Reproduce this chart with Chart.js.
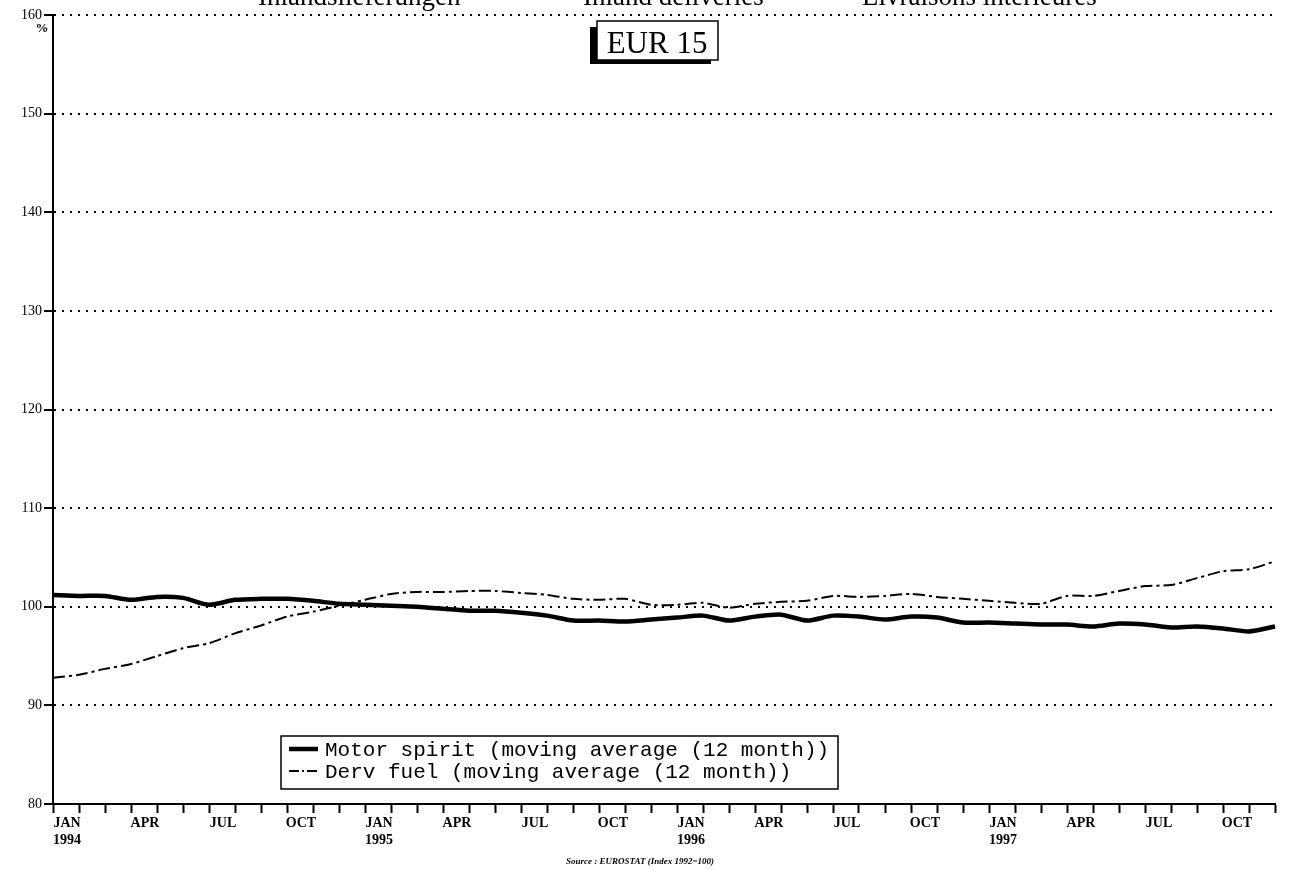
<!DOCTYPE html>
<html>
<head>
<meta charset="utf-8">
<script src="https://cdn.jsdelivr.net/npm/chart.js@4.4.1/dist/chart.umd.min.js"></script>
<style>
  html, body { margin: 0; padding: 0; background: #fff; }
</style>
</head>
<body>
<canvas id="fuelChart" width="1293" height="870"></canvas>
<script>
// ── Data ───────────────────────────────────────────────────
const monthNames = ["JAN", "FEB", "MAR", "APR", "MAY", "JUN", "JUL", "AUG", "SEP", "OCT", "NOV", "DEC"];
const years = ["1994", "1995", "1996", "1997"];

// Motor spirit, moving average (12 month), index 1992=100
const motorSpirit = [
  101.2, 101.1, 101.1, 100.7, 101.0, 100.9, 100.2, 100.7, 100.8, 100.8, 100.6, 100.3,
  100.2, 100.1, 100.0, 99.8, 99.6, 99.6, 99.4, 99.1, 98.6, 98.6, 98.5, 98.7,
  98.9, 99.1, 98.6, 99.0, 99.2, 98.6, 99.1, 99.0, 98.7, 99.0, 98.9, 98.4,
  98.4, 98.3, 98.2, 98.2, 98.0, 98.3, 98.2, 97.9, 98.0, 97.8, 97.5, 98.0
];

// Derv fuel, moving average (12 month)
const dervFuel = [
  92.8, 93.1, 93.7, 94.2, 95.0, 95.8, 96.3, 97.3, 98.1, 99.0, 99.5, 100.1,
  100.7, 101.3, 101.5, 101.5, 101.6, 101.6, 101.4, 101.2, 100.8, 100.7, 100.8, 100.2,
  100.2, 100.4, 99.9, 100.3, 100.5, 100.6, 101.1, 101.0, 101.1, 101.3, 101.0, 100.8,
  100.6, 100.4, 100.3, 101.1, 101.1, 101.6, 102.1, 102.2, 102.9, 103.6, 103.8, 104.6
];

const yTicks = [80, 90, 100, 110, 120, 130, 140, 150, 160];

const labels = [];
years.forEach(function (y) {
  monthNames.forEach(function (m) { labels.push(m + " " + y); });
});

// ── Overlay texts: cut-off title, EUR 15 box, legend, source ──
const overlay = {
  id: "overlay",
  afterDraw: function (chart) {
    const ctx = chart.ctx;
    ctx.save();
    ctx.fillStyle = "#000";

    // title (cut off at top of the scan)
    ctx.font = "27px 'Liberation Serif'";
    ctx.textBaseline = "alphabetic";
    ctx.textAlign = "left";
    ctx.fillText("Inlandslieferungen", 258, 5);
    ctx.fillText("Inland deliveries", 583, 5);
    ctx.fillText("Livraisons intérieures", 862, 5);

    // EUR 15 box with shadow
    ctx.fillRect(590, 27, 121, 37);
    ctx.fillStyle = "#fff";
    ctx.fillRect(597, 21, 121, 39);
    ctx.strokeStyle = "#000";
    ctx.lineWidth = 1.5;
    ctx.strokeRect(597, 21, 121, 39);
    ctx.fillStyle = "#000";
    ctx.font = "31px 'Liberation Serif'";
    ctx.textAlign = "center";
    ctx.fillText("EUR 15", 657, 53);

    // % unit
    ctx.font = "bold 13px 'Liberation Serif'";
    ctx.fillText("%", 42, 32);

    // legend box
    ctx.fillStyle = "#fff";
    ctx.fillRect(281, 736, 557, 53);
    ctx.lineWidth = 1.5;
    ctx.strokeRect(281, 736, 557, 53);
    ctx.font = "21px 'Liberation Mono'";
    ctx.textAlign = "left";
    ctx.textBaseline = "middle";
    chart.data.datasets.forEach(function (ds, i) {
      const y = 749 + i * 22;
      ctx.save();
      ctx.strokeStyle = "#000";
      ctx.lineWidth = ds.borderWidth;
      ctx.setLineDash(ds.legendDash || []);
      ctx.beginPath();
      ctx.moveTo(289, y);
      ctx.lineTo(318, y);
      ctx.stroke();
      ctx.restore();
      ctx.fillStyle = "#000";
      ctx.fillText(ds.label, 325, y + 1);
    });

    // source
    ctx.font = "italic bold 9px 'Liberation Serif'";
    ctx.textAlign = "center";
    ctx.textBaseline = "alphabetic";
    ctx.fillText("Source : EUROSTAT (Index 1992=100)", 640, 864);
    ctx.restore();
  }
};

// ── Line Chart ─────────────────────────────────────────────
Chart.defaults.font.family = "'Liberation Serif', serif";
Chart.defaults.color = "#000";

new Chart(document.getElementById("fuelChart"), {
  type: "line",
  data: {
    labels: labels,
    datasets: [
      {
        label: "Motor spirit (moving average (12 month))",
        data: motorSpirit,
        borderColor: "#000",
        borderWidth: 4.5,
        pointRadius: 0,
        tension: 0.25,
        legendDash: []
      },
      {
        label: "Derv fuel (moving average (12 month))",
        data: dervFuel,
        borderColor: "#000",
        borderWidth: 2,
        borderDash: [12, 4, 3, 4],
        pointRadius: 0,
        tension: 0.25,
        legendDash: [10, 3, 2, 3]
      }
    ]
  },
  options: {
    responsive: false,
    animation: false,
    layout: { padding: { top: 15, right: 18, bottom: 0, left: 0 } },
    plugins: {
      legend: { display: false },
      tooltip: { enabled: false }
    },
    scales: {
      x: {
        type: "category",
        offset: false,
        afterFit: function (scale) { scale.height = 66; },
        grid: {
          drawOnChartArea: false,
          drawTicks: true,
          tickLength: 9,
          tickColor: "#000",
          tickWidth: 2
        },
        border: { display: true, color: "#000", width: 2 },
        ticks: {
          autoSkip: false,
          maxRotation: 0,
          minRotation: 0,
          padding: 2,
          labelOffset: 14,
          font: { size: 14, weight: "bold" },
          callback: function (value, index) {
            if (index % 3 !== 0) return "";
            const m = monthNames[index % 12];
            if (index % 12 === 0) return [m, years[index / 12]];
            return m;
          }
        }
      },
      y: {
        min: yTicks[0],
        max: yTicks[yTicks.length - 1],
        afterFit: function (scale) { scale.width = 53; },
        afterBuildTicks: function (scale) {
          scale.ticks = yTicks.map(function (v) { return { value: v }; });
        },
        grid: {
          color: "#000",
          lineWidth: 2,
          drawTicks: true,
          tickLength: 9,
          tickColor: "#000",
          tickWidth: 2
        },
        border: { display: true, color: "#000", width: 2, dash: [2, 6] },
        ticks: {
          padding: 2,
          font: { size: 14 }
        }
      }
    }
  },
  plugins: [overlay]
});
</script>
</body>
</html>
